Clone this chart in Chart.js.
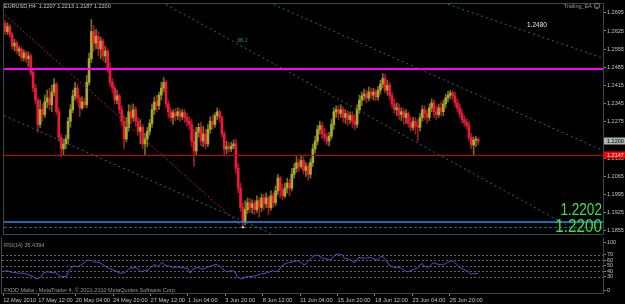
<!DOCTYPE html>
<html lang="en">
<head>
<meta charset="UTF-8">
<title>EURUSD,H4</title>
<script src="https://cdn.jsdelivr.net/npm/chart.js"></script>
<style>
    html, body { margin: 0; padding: 0; background: #000; }
    #wrap { position: relative; width: 625px; height: 304px; overflow: hidden; background: #000; }
    #wrap canvas { position: absolute; left: 0; }
    #priceChart { top: 0; }
    #rsiChart { top: 238px; }
</style>
</head>
<body>
<div id="wrap">
    <canvas id="priceChart" width="625" height="238"></canvas>
    <canvas id="rsiChart" width="625" height="66"></canvas>
</div>
<script>
// EURUSD H4 candles, 12 May - 28 Jun 2010
const opens = [
    1.2654,1.2623,1.2642,1.2612,1.2567,1.2578,1.2548,1.2556,1.2522,1.2540,
    1.2518,1.2529,1.2465,1.2405,1.2359,1.2265,1.2322,1.2303,1.2352,1.2367,
    1.2341,1.2390,1.2420,1.2314,1.2216,1.2171,1.2190,1.2209,1.2277,1.2322,
    1.2375,1.2405,1.2367,1.2329,1.2352,1.2341,1.2427,1.2518,1.2623,1.2578,
    1.2605,1.2556,1.2586,1.2529,1.2548,1.2480,1.2427,1.2405,1.2359,1.2375,
    1.2322,1.2277,1.2209,1.2254,1.2314,1.2292,1.2322,1.2277,1.2239,1.2254,
    1.2190,1.2209,1.2239,1.2269,1.2322,1.2352,1.2337,1.2378,1.2405,1.2427,
    1.2344,1.2314,1.2292,1.2310,1.2299,1.2314,1.2295,1.2310,1.2292,1.2277,
    1.2265,1.2201,1.2163,1.2235,1.2254,1.2201,1.2228,1.2190,1.2246,1.2277,
    1.2265,1.2299,1.2314,1.2292,1.2228,1.2171,1.2179,1.2171,1.2182,1.2190,
    1.2096,1.2020,1.1945,1.1892,1.1937,1.1964,1.1945,1.1960,1.1937,1.1971,
    1.1945,1.1982,1.1960,1.1982,1.1945,1.1990,1.1964,1.2009,1.2058,1.2013,
    1.1990,1.2020,1.2039,1.2020,1.2073,1.2096,1.2118,1.2103,1.2126,1.2088,
    1.2103,1.2073,1.2118,1.2171,1.2201,1.2246,1.2261,1.2228,1.2216,1.2201,
    1.2220,1.2265,1.2314,1.2322,1.2307,1.2322,1.2292,1.2307,1.2284,1.2299,
    1.2277,1.2265,1.2322,1.2359,1.2375,1.2382,1.2367,1.2390,1.2378,1.2390,
    1.2371,1.2397,1.2420,1.2442,1.2397,1.2416,1.2375,1.2344,1.2322,1.2329,
    1.2303,1.2314,1.2292,1.2307,1.2269,1.2254,1.2277,1.2261,1.2254,1.2292,
    1.2322,1.2307,1.2292,1.2329,1.2348,1.2314,1.2303,1.2329,1.2314,1.2344,
    1.2367,1.2378,1.2386,1.2375,1.2348,1.2329,1.2307,1.2284,1.2273,1.2261,
    1.2216,1.2186,1.2205,1.2207
];
const highs = [
    1.2665,1.2657,1.2650,1.2620,1.2593,1.2586,1.2567,1.2563,1.2552,1.2548,
    1.2544,1.2537,1.2480,1.2420,1.2367,1.2359,1.2344,1.2378,1.2397,1.2405,
    1.2416,1.2442,1.2427,1.2329,1.2228,1.2209,1.2224,1.2292,1.2341,1.2397,
    1.2427,1.2420,1.2378,1.2371,1.2367,1.2454,1.2540,1.2669,1.2646,1.2631,
    1.2623,1.2601,1.2593,1.2567,1.2556,1.2503,1.2442,1.2416,1.2397,1.2382,
    1.2337,1.2299,1.2292,1.2341,1.2341,1.2344,1.2333,1.2292,1.2284,1.2265,
    1.2231,1.2254,1.2284,1.2344,1.2371,1.2378,1.2390,1.2427,1.2446,1.2435,
    1.2359,1.2329,1.2322,1.2326,1.2329,1.2326,1.2322,1.2322,1.2307,1.2295,
    1.2284,1.2246,1.2254,1.2269,1.2273,1.2258,1.2246,1.2265,1.2295,1.2303,
    1.2310,1.2329,1.2322,1.2299,1.2239,1.2201,1.2194,1.2197,1.2205,1.2209,
    1.2114,1.2039,1.1964,1.1971,1.1982,1.1979,1.1975,1.1971,1.1990,1.1982,
    1.1998,1.1994,1.2001,1.1990,1.2009,1.2001,1.2028,1.2073,1.2065,1.2035,
    1.2039,1.2058,1.2054,1.2096,1.2114,1.2141,1.2133,1.2145,1.2141,1.2118,
    1.2114,1.2133,1.2190,1.2220,1.2261,1.2277,1.2273,1.2250,1.2231,1.2235,
    1.2284,1.2329,1.2337,1.2337,1.2341,1.2333,1.2322,1.2318,1.2314,1.2314,
    1.2303,1.2341,1.2378,1.2390,1.2401,1.2397,1.2409,1.2405,1.2405,1.2401,
    1.2412,1.2435,1.2461,1.2458,1.2435,1.2427,1.2390,1.2363,1.2348,1.2344,
    1.2329,1.2326,1.2322,1.2314,1.2292,1.2292,1.2292,1.2284,1.2307,1.2337,
    1.2337,1.2322,1.2344,1.2363,1.2359,1.2337,1.2344,1.2352,1.2359,1.2382,
    1.2393,1.2397,1.2393,1.2390,1.2363,1.2344,1.2322,1.2299,1.2288,1.2277,
    1.2231,1.2216,1.2220,1.2213
];
const lows = [
    1.2612,1.2612,1.2601,1.2556,1.2548,1.2537,1.2529,1.2510,1.2510,1.2503,
    1.2488,1.2454,1.2390,1.2344,1.2235,1.2254,1.2277,1.2292,1.2329,1.2322,
    1.2314,1.2375,1.2303,1.2201,1.2141,1.2148,1.2171,1.2190,1.2254,1.2310,
    1.2359,1.2348,1.2295,1.2322,1.2329,1.2329,1.2416,1.2503,1.2548,1.2556,
    1.2529,1.2518,1.2510,1.2503,1.2465,1.2412,1.2386,1.2344,1.2344,1.2307,
    1.2261,1.2171,1.2197,1.2239,1.2269,1.2277,1.2258,1.2224,1.2190,1.2171,
    1.2148,1.2179,1.2224,1.2254,1.2303,1.2314,1.2322,1.2359,1.2390,1.2329,
    1.2292,1.2277,1.2265,1.2280,1.2284,1.2277,1.2284,1.2273,1.2258,1.2246,
    1.2179,1.2103,1.2148,1.2216,1.2182,1.2179,1.2171,1.2179,1.2231,1.2246,
    1.2254,1.2284,1.2273,1.2216,1.2145,1.2152,1.2160,1.2160,1.2171,1.2077,
    1.2001,1.1930,1.1869,1.1877,1.1922,1.1926,1.1922,1.1918,1.1926,1.1907,
    1.1930,1.1937,1.1945,1.1918,1.1934,1.1945,1.1952,1.1994,1.1982,1.1975,
    1.1982,1.2001,1.1990,1.2009,1.2058,1.2081,1.2084,1.2096,1.2073,1.2065,
    1.2050,1.2058,1.2103,1.2156,1.2186,1.2228,1.2209,1.2201,1.2186,1.2182,
    1.2209,1.2246,1.2292,1.2284,1.2292,1.2273,1.2269,1.2261,1.2269,1.2254,
    1.2246,1.2254,1.2307,1.2337,1.2359,1.2348,1.2356,1.2363,1.2359,1.2356,
    1.2359,1.2382,1.2405,1.2386,1.2378,1.2359,1.2329,1.2307,1.2299,1.2284,
    1.2280,1.2265,1.2269,1.2254,1.2239,1.2243,1.2228,1.2201,1.2239,1.2277,
    1.2284,1.2269,1.2280,1.2314,1.2292,1.2284,1.2292,1.2299,1.2299,1.2329,
    1.2352,1.2363,1.2359,1.2333,1.2314,1.2292,1.2269,1.2258,1.2246,1.2201,
    1.2171,1.2145,1.2179,1.2187
];
const closes = [
    1.2623,1.2642,1.2612,1.2567,1.2578,1.2548,1.2556,1.2522,1.2540,1.2518,
    1.2529,1.2465,1.2405,1.2359,1.2265,1.2322,1.2303,1.2352,1.2367,1.2341,
    1.2390,1.2420,1.2314,1.2216,1.2171,1.2190,1.2209,1.2277,1.2322,1.2375,
    1.2405,1.2367,1.2329,1.2352,1.2341,1.2427,1.2518,1.2623,1.2578,1.2605,
    1.2556,1.2586,1.2529,1.2548,1.2480,1.2427,1.2405,1.2359,1.2375,1.2322,
    1.2277,1.2209,1.2254,1.2314,1.2292,1.2322,1.2277,1.2239,1.2254,1.2190,
    1.2209,1.2239,1.2269,1.2322,1.2352,1.2337,1.2378,1.2405,1.2427,1.2344,
    1.2314,1.2292,1.2310,1.2299,1.2314,1.2295,1.2310,1.2292,1.2277,1.2265,
    1.2201,1.2163,1.2235,1.2254,1.2201,1.2228,1.2190,1.2246,1.2277,1.2265,
    1.2299,1.2314,1.2292,1.2228,1.2171,1.2179,1.2171,1.2182,1.2190,1.2096,
    1.2020,1.1945,1.1892,1.1937,1.1964,1.1945,1.1960,1.1937,1.1971,1.1945,
    1.1982,1.1960,1.1982,1.1945,1.1990,1.1964,1.2009,1.2058,1.2013,1.1990,
    1.2020,1.2039,1.2020,1.2073,1.2096,1.2118,1.2103,1.2126,1.2088,1.2103,
    1.2073,1.2118,1.2171,1.2201,1.2246,1.2261,1.2228,1.2216,1.2201,1.2220,
    1.2265,1.2314,1.2322,1.2307,1.2322,1.2292,1.2307,1.2284,1.2299,1.2277,
    1.2265,1.2322,1.2359,1.2375,1.2382,1.2367,1.2390,1.2378,1.2390,1.2371,
    1.2397,1.2420,1.2442,1.2397,1.2416,1.2375,1.2344,1.2322,1.2329,1.2303,
    1.2314,1.2292,1.2307,1.2269,1.2254,1.2277,1.2261,1.2254,1.2292,1.2322,
    1.2307,1.2292,1.2329,1.2348,1.2314,1.2303,1.2329,1.2314,1.2344,1.2367,
    1.2378,1.2386,1.2375,1.2348,1.2329,1.2307,1.2284,1.2273,1.2261,1.2216,
    1.2186,1.2205,1.2207,1.2200
];
// RSI(14) on the same bars
const rsi = [
    38.7,40.0,40.5,38.5,36.9,37.5,36.4,35.8,36.5,35.2,
    34.5,33.0,31.2,29.6,25.5,27.0,28.5,35.8,37.5,38.7,
    38.0,36.9,37.5,35.8,31.0,29.6,30.4,29.6,41.0,44.9,
    49.0,48.2,47.8,50.2,52.7,56.5,60.0,59.5,58.7,55.8,
    56.3,55.8,53.2,50.9,47.5,44.9,43.6,41.8,40.2,38.0,
    35.8,36.5,36.9,41.0,44.9,45.5,46.0,46.7,43.0,38.7,
    40.2,41.2,41.8,46.5,49.0,52.2,47.8,51.5,55.8,50.9,
    49.5,49.0,47.5,46.7,47.3,46.9,46.7,46.0,45.2,44.9,
    35.8,43.1,44.5,46.7,45.0,43.1,44.6,46.2,47.8,49.5,
    51.0,52.2,50.0,47.8,43.5,40.0,38.7,40.1,40.5,38.7,
    29.6,27.5,25.5,27.5,29.6,30.2,29.8,30.9,31.5,33.0,
    34.5,35.0,36.1,36.9,38.5,40.5,39.5,38.7,42.0,49.0,
    51.5,54.0,55.2,56.0,56.9,57.5,58.7,56.0,53.0,50.9,
    55.5,60.0,64.5,68.0,69.1,67.3,65.0,61.8,62.5,60.8,
    60.0,65.0,69.5,70.9,70.2,69.1,63.1,62.4,61.3,59.0,
    55.1,58.5,64.9,64.0,63.5,63.1,64.2,64.9,63.0,61.5,
    60.0,64.5,67.3,63.1,58.0,50.9,48.5,46.7,47.0,46.2,
    45.8,43.0,39.5,38.7,40.5,41.8,43.5,44.9,49.5,54.0,
    49.0,47.5,46.7,51.5,55.1,53.5,52.2,51.5,50.9,53.0,
    55.8,57.5,58.7,55.8,52.0,46.7,45.0,43.1,40.5,38.7,
    34.0,35.0,35.8,35.4394
];

const priceTicks = [1.2695, 1.2625, 1.2555, 1.2485, 1.2415, 1.2345, 1.2275, 1.2205, 1.2135, 1.2065, 1.1995, 1.1925, 1.1855];
const rsiLevels = [70, 60, 50, 40, 30];
const rsiAxisText = ['100', '70', '60', '50', '40', '30', '0'];
const xTickIdx = [0, 15, 31, 47, 63, 79, 95, 111, 127, 143, 159, 175, 191];
const xTickText = ['12 May 2010', '17 May 12:00', '20 May 04:00', '24 May 20:00', '27 May 12:00', '1 Jun 04:00',
    '3 Jun 20:00', '8 Jun 12:00', '11 Jun 04:00', '15 Jun 20:00', '18 Jun 12:00', '23 Jun 04:00', '25 Jun 20:00'];

// horizontal objects: magenta, red, blue, teal dashed
const levelPrices = [1.2480, 1.2147, 1.1888, 1.1869];
// fibo channel rays [barIndex, price] -> [barIndex, price]
const fiboFrom = [[67, 1.2737], [127, 1.2680], [187, 1.2737], [0, 1.2297]];
const fiboTo = [[238, 1.1892], [255, 1.2171], [255, 1.2525], [105, 1.1881]];
// red trend line segment from the first bar to the 7 Jun low
const trendFrom = [0, 1.2686];
const trendTo = [102, 1.1869];
const markerBar = 102;
const markerPrice = 1.1869;

const slotCount = 257; // bars plus the empty shift space on the right
const barSlots = Array.from({length: slotCount}, (_, i) => String(i));

const FONT = "'Liberation Sans', Arial, sans-serif";
const bull = closes.map((c, i) => c >= opens[i]);

const levelStyles = [
    {color: '#ff00ff', width: 2},
    {color: '#d00000', width: 1},
    {color: '#2a8cf0', width: 1.5},
    {color: '#1d6a6a', width: 1, dash: [3, 2]}
];

const framePlugin = {
    id: 'frame',
    afterDraw(chart) {
        const {ctx, chartArea: a} = chart;
        ctx.save();
        ctx.strokeStyle = '#3a4848';
        ctx.lineWidth = 1;
        ctx.strokeRect(a.left - 0.5, a.top - 0.5, a.right - a.left + 1, a.bottom - a.top + 1);
        ctx.restore();
    }
};

function lineThrough(ctx, x, y, p1, p2, a, extend) {
    const x1 = x.getPixelForValue(p1[0]), y1 = y.getPixelForValue(p1[1]);
    const x2 = x.getPixelForValue(p2[0]), y2 = y.getPixelForValue(p2[1]);
    ctx.beginPath();
    if (extend) {
        const k = (y2 - y1) / (x2 - x1);
        ctx.moveTo(a.left, y1 + k * (a.left - x1));
        ctx.lineTo(a.right, y1 + k * (a.right - x1));
    } else {
        ctx.moveTo(x1, y1);
        ctx.lineTo(x2, y2);
    }
    ctx.stroke();
}

const objectsPlugin = {
    id: 'objects',
    afterDatasetsDraw(chart) {
        const {ctx, chartArea: a, scales: {x, y}} = chart;
        ctx.save();
        ctx.beginPath();
        ctx.rect(a.left, a.top, a.right - a.left, a.bottom - a.top);
        ctx.clip();

        ctx.lineWidth = 1;
        ctx.strokeStyle = '#1f7272';
        ctx.setLineDash([2, 3]);
        fiboFrom.forEach((p, i) => lineThrough(ctx, x, y, p, fiboTo[i], a, true));

        ctx.strokeStyle = '#c01c1c';
        ctx.setLineDash([2, 2]);
        lineThrough(ctx, x, y, trendFrom, trendTo, a, false);

        levelPrices.forEach((p, i) => {
            const s = levelStyles[i];
            const py = Math.round(y.getPixelForValue(p)) + (s.width === 1 ? 0.5 : 0);
            ctx.strokeStyle = s.color;
            ctx.lineWidth = s.width;
            ctx.setLineDash(s.dash || []);
            ctx.beginPath();
            ctx.moveTo(a.left, py);
            ctx.lineTo(a.right, py);
            ctx.stroke();
        });
        ctx.restore();
    }
};

const priceTextPlugin = {
    id: 'priceText',
    afterDraw(chart) {
        const {ctx, scales: {y}} = chart;
        ctx.save();
        ctx.textBaseline = 'middle';

        // current bid and red line boxes on the price axis
        const boxes = [
            {v: closes[closes.length - 1], bg: '#aab6b6', fg: '#000'},
            {v: levelPrices[1], bg: '#ff0000', fg: '#fff'}
        ];
        boxes.forEach(b => {
            const py = y.getPixelForValue(b.v);
            ctx.fillStyle = b.bg;
            ctx.fillRect(y.left + 1, Math.round(py) - 3.5, 22, 7);
            ctx.fillStyle = b.fg;
            ctx.font = '5.5px ' + FONT;
            ctx.textAlign = 'left';
            ctx.fillText(b.v.toFixed(4), y.left + 4, py + 0.5);
        });

        ctx.font = '5.5px ' + FONT;
        ctx.fillStyle = '#c8c8c8';
        ctx.textAlign = 'left';
        ctx.fillText('EURUSD,H4  1.2207 1.2213 1.2187 1.2200', 4, 6.5);

        ctx.fillStyle = '#2c8a8a';
        ctx.fillText('38.2', 237, 40.5);

        ctx.font = '6.5px ' + FONT;
        ctx.fillStyle = '#e6e6e6';
        ctx.fillText('1.2480', 527, 25);

        ctx.font = '5.5px ' + FONT;
        ctx.fillStyle = '#8c9c9c';
        ctx.textAlign = 'right';
        ctx.fillText('Trailing_EA', 592, 6);
        ctx.strokeStyle = '#8c9c9c';
        ctx.lineWidth = 0.8;
        ctx.beginPath();
        ctx.arc(597, 6, 2.6, 0, Math.PI * 2);
        ctx.stroke();
        ctx.beginPath();
        ctx.arc(597, 6, 1.4, 0.2 * Math.PI, 0.8 * Math.PI);
        ctx.stroke();

        // big green labels
        ctx.fillStyle = '#3ee43e';
        ctx.textAlign = 'right';
        ctx.save();
        ctx.translate(602, 211);
        ctx.scale(0.85, 1);
        ctx.font = '16px ' + FONT;
        ctx.fillText('1.2202', 0, 0);
        ctx.restore();
        ctx.save();
        ctx.translate(602, 227.5);
        ctx.scale(0.85, 1);
        ctx.font = '18px ' + FONT;
        ctx.fillText('1.2200', 0, 0);
        ctx.restore();

        ctx.restore();
    }
};

new Chart(document.getElementById('priceChart'), {
    type: 'bar',
    data: {
        labels: barSlots,
        datasets: [
            {
                type: 'line',
                data: [{x: barSlots[markerBar], y: markerPrice}],
                showLine: false,
                pointStyle: 'rect',
                pointRadius: 1.3,
                pointBackgroundColor: '#ffffff',
                pointBorderWidth: 0,
                order: 0
            },
            {
                data: opens.map((o, i) => [o, closes[i]]),
                backgroundColor: bull.map(b => b ? '#aaaa2a' : '#f2163a'),
                barThickness: 2,
                minBarLength: 1,
                grouped: false,
                borderWidth: 0,
                order: 1
            },
            {
                data: highs.map((h, i) => [lows[i], h]),
                backgroundColor: bull.map(b => b ? '#727220' : '#a01a2c'),
                barThickness: 1,
                grouped: false,
                borderWidth: 0,
                order: 2
            }
        ]
    },
    options: {
        responsive: false,
        animation: false,
        layout: {padding: {left: 2, top: 2, right: 0, bottom: 1}},
        plugins: {legend: {display: false}, tooltip: {enabled: false}},
        scales: {
            x: {display: false, offset: true},
            y: {
                position: 'right',
                min: 1.1843,
                max: 1.2729,
                afterBuildTicks: s => { s.ticks = priceTicks.map(v => ({value: v})); },
                afterFit: s => { s.width = 22; s.paddingTop = 0; s.paddingBottom = 0; },
                ticks: {
                    autoSkip: false,
                    color: '#c4c4c4',
                    font: {family: FONT, size: 5.5},
                    padding: 1,
                    callback: v => v.toFixed(4)
                },
                grid: {display: true, drawOnChartArea: false, tickLength: 3, color: '#7a8888'},
                border: {display: true, color: '#5f6f6f'}
            }
        }
    },
    plugins: [objectsPlugin, framePlugin, priceTextPlugin]
});

const rsiPlugin = {
    id: 'rsiLevels',
    beforeDatasetsDraw(chart) {
        const {ctx, chartArea: a, scales: {y}} = chart;
        ctx.save();
        ctx.strokeStyle = '#5c6464';
        ctx.lineWidth = 1;
        ctx.setLineDash([2, 2]);
        rsiLevels.forEach(v => {
            const py = Math.round(y.getPixelForValue(v)) + 0.5;
            ctx.beginPath();
            ctx.moveTo(a.left, py);
            ctx.lineTo(a.right, py);
            ctx.stroke();
        });
        ctx.restore();
    },
    afterDraw(chart) {
        const {ctx} = chart;
        ctx.save();
        ctx.font = '5.5px ' + FONT;
        ctx.fillStyle = '#8c9c9c';
        ctx.textBaseline = 'middle';
        ctx.fillText('RSI(14) ' + rsi[rsi.length - 1].toFixed(4), 4, 7);
        ctx.fillText('FXDD Malta - MetaTrader 4, \u00a9 2001-2010 MetaQuotes Software Corp.', 4, 52);
        ctx.restore();
    }
};

new Chart(document.getElementById('rsiChart'), {
    type: 'line',
    data: {
        labels: barSlots,
        datasets: [{
            data: rsi,
            borderColor: '#5a4fd0',
            borderWidth: 1,
            pointRadius: 0,
            tension: 0
        }]
    },
    options: {
        responsive: false,
        animation: false,
        layout: {padding: {left: 2, top: 0, right: 0, bottom: 0}},
        plugins: {legend: {display: false}, tooltip: {enabled: false}},
        scales: {
            x: {
                offset: true,
                afterBuildTicks: s => { s.ticks = xTickIdx.map(v => ({value: v})); },
                afterFit: s => { s.height = 11; s.paddingLeft = 0; s.paddingRight = 0; },
                ticks: {
                    autoSkip: false,
                    maxRotation: 0,
                    align: 'start',
                    padding: 1,
                    color: '#c4c4c4',
                    font: {family: FONT, size: 5.7},
                    callback: (v, i) => xTickText[i]
                },
                grid: {display: true, drawOnChartArea: false, offset: false, tickLength: 3, color: '#7a8888'},
                border: {display: true, color: '#3a4848'}
            },
            y: {
                position: 'right',
                min: 0,
                max: 100,
                // MT4 draws the 100 and 0 captions just inside the window
                afterBuildTicks: s => { s.ticks = [91, ...rsiLevels, 4].map(v => ({value: v})); },
                afterFit: s => { s.width = 22; s.paddingTop = 0; s.paddingBottom = 0; },
                ticks: {
                    autoSkip: false,
                    color: '#c4c4c4',
                    font: {family: FONT, size: 5.5},
                    padding: 1,
                    callback: (v, i) => rsiAxisText[i]
                },
                grid: {display: true, drawOnChartArea: false, tickLength: 3, color: '#7a8888'},
                border: {display: true, color: '#5f6f6f'}
            }
        }
    },
    plugins: [rsiPlugin, framePlugin]
});
</script>
</body>
</html>
